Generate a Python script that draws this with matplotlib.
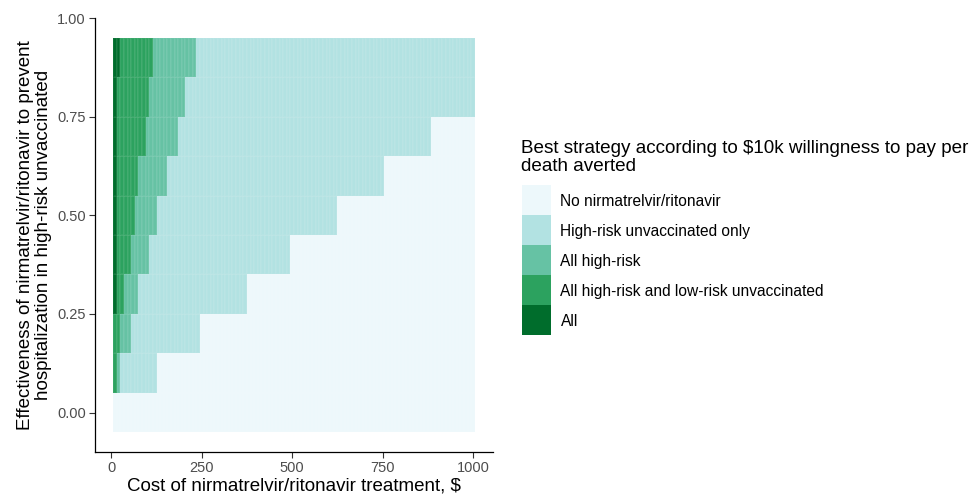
import numpy as np
import matplotlib
matplotlib.use("Agg")
from matplotlib import pyplot as plt
from matplotlib.colors import ListedColormap, BoundaryNorm
from matplotlib.patches import Rectangle

plt.rcParams['font.family'] = ['Liberation Sans', 'DejaVu Sans']

# strategies, worst -> best coverage
strategies = ["No nirmatrelvir/ritonavir",
              "High-risk unvaccinated only",
              "All high-risk",
              "All high-risk and low-risk unvaccinated",
              "All"]
colors = ["#edf8fb", "#b2e2e2", "#66c2a4", "#2ca25f", "#006d2c"]

# grid of the sweep
cost = np.arange(10, 1001, 10)
effectiveness = [0.0, 0.1, 0.2, 0.3, 0.4, 0.5, 0.6, 0.7, 0.8, 0.9]

# highest cost ($) at which each strategy is still the best one, per effectiveness row
max_cost_hr_unvacc = [0, 120, 240, 370, 490, 620, 750, 880, 1000, 1000]
max_cost_all_hr = [0, 20, 50, 70, 100, 120, 150, 180, 200, 230]
max_cost_hr_lr = [0, 10, 20, 30, 50, 60, 70, 90, 100, 110]
max_cost_all = [0, 0, 0, 10, 10, 10, 10, 10, 10, 20]

thresholds = np.array([max_cost_hr_unvacc, max_cost_all_hr, max_cost_hr_lr, max_cost_all])
best = (cost[None, None, :] <= thresholds[:, :, None]).sum(axis=0)

x_edges = np.append(cost - 5, cost[-1] + 5)
eff = np.array(effectiveness)
y_edges = np.append(eff - 0.05, eff[-1] + 0.05)

W, H = 977, 496
fig = plt.figure(figsize=(W / 100, H / 100), dpi=100)
ax = fig.add_axes([95 / W, 1 - 452 / H, (493 - 95) / W, (452 - 18) / H])

cmap = ListedColormap(colors)
norm = BoundaryNorm(np.arange(-0.5, 5.5, 1), cmap.N)
ax.pcolormesh(x_edges, y_edges, best, cmap=cmap, norm=norm, shading='flat',
              edgecolors=(1, 1, 1, 0.06), linewidth=0.3)

ax.set_xlim(-45, 1055)
ax.set_ylim(-0.1, 1.0)
ax.set_xticks([0, 250, 500, 750, 1000])
ax.set_yticks([0, 0.25, 0.5, 0.75, 1.0])
ax.set_yticklabels(["0.00", "0.25", "0.50", "0.75", "1.00"])
ax.tick_params(labelsize=10.5, labelcolor="#4d4d4d", color="#333333",
               length=4, width=0.8, pad=2.5)

for s in ["top", "right"]:
    ax.spines[s].set_visible(False)
for s in ["left", "bottom"]:
    ax.spines[s].set_linewidth(0.9)

ax.set_xlabel("Cost of nirmatrelvir/ritonavir treatment, $", fontsize=13.5, labelpad=2)
ax.set_ylabel("Effectiveness of nirmatrelvir/ritonavir to prevent\nhospitalization in high-risk unvaccinated",
              fontsize=13.5, labelpad=4, linespacing=1.05)

# legend, drawn by hand so the keys are ggplot-sized and touching
fig.text(521 / W, 1 - 140 / H,
         "Best strategy according to $10k willingness to pay per\ndeath averted",
         fontsize=13.6, va="top", ha="left", linespacing=1.05)

key_w, key_h, key_top = 29, 30, 185
for i, (lab, c) in enumerate(zip(strategies, colors)):
    y0 = key_top + i * key_h
    fig.add_artist(Rectangle((521.7 / W, 1 - (y0 + key_h) / H), key_w / W, key_h / H,
                             transform=fig.transFigure, facecolor=c, edgecolor='none'))
    fig.text(560.5 / W, 1 - (y0 + key_h / 2) / H, lab, fontsize=11.2,
             va="center_baseline", ha="left")

fig.savefig("out.png", dpi=100)
